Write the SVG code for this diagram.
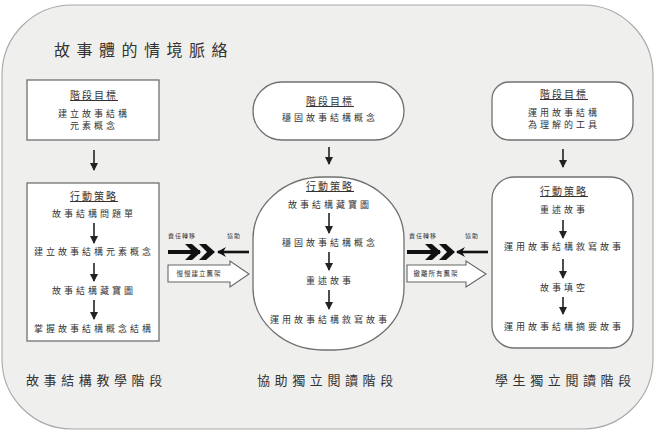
<svg xmlns="http://www.w3.org/2000/svg" width="656" height="434" viewBox="0 0 656 434">
  <defs>
    <style>
      .frame { fill: #efefed; stroke: #a8a8a8; stroke-width: 1.1; }
      .box { fill: #ffffff; stroke: #707070; stroke-width: 1.3; }
      .t { font-family: "Noto Sans CJK TC", "Noto Sans CJK SC", sans-serif; font-size: 9px; fill: #333; text-anchor: middle; letter-spacing: 3px; }
      .h { font-size: 10px; letter-spacing: 2px; text-decoration: underline; }
      .title { font-family: "Noto Sans CJK TC", sans-serif; font-size: 16px; fill: #333; letter-spacing: 6.5px; }
      .stage { font-family: "Noto Sans CJK TC", sans-serif; font-size: 13px; fill: #333; letter-spacing: 4.6px; }
      .small { font-family: "Noto Sans CJK TC", sans-serif; font-size: 6px; fill: #333; text-anchor: middle; letter-spacing: 1px; }
      .step { stroke: #222; stroke-width: 1.6; fill: none; marker-end: url(#head); }
      .help { stroke: #111; stroke-width: 2.6; fill: none; marker-end: url(#headL); }
      .shaft { stroke: #111; stroke-width: 4; fill: none; }
      .chev { fill: #111; }
      .block { fill: #fff; stroke: #666; stroke-width: 1.1; }
    </style>
    <marker id="head" markerUnits="userSpaceOnUse" markerWidth="8" markerHeight="8" refX="7" refY="4" orient="auto">
      <path d="M0,0 L8,4 L0,8 z" fill="#222"/>
    </marker>
    <marker id="headL" markerUnits="userSpaceOnUse" markerWidth="9" markerHeight="10" refX="8" refY="5" orient="auto">
      <path d="M0,0 L9,5 L0,10 L3,5 z" fill="#111"/>
    </marker>
  </defs>

  <!-- outer context frame -->
  <rect class="frame" x="2" y="5" width="651" height="424" rx="70" ry="70"/>
  <text class="title" x="54" y="56">故事體的情境脈絡</text>

  <!-- stage 1: teaching story structure -->
  <g id="goal1">
    <rect class="box" x="27" y="80" width="132" height="60"/>
    <text class="t h" x="94" y="99">階段目標</text>
    <text class="t" x="94" y="117">建立故事結構</text>
    <text class="t" x="94" y="129">元素概念</text>
  </g>
  <g id="strategy1">
    <rect class="box" x="27" y="183" width="132" height="158"/>
    <text class="t h" x="94" y="200">行動策略</text>
    <text class="t" x="94" y="217">故事結構問題單</text>
    <text class="t" x="94" y="255">建立故事結構元素概念</text>
    <text class="t" x="94" y="294">故事結構藏寶圖</text>
    <text class="t" x="94" y="332">掌握故事結構概念結構</text>
  </g>

  <!-- stage 2: assisted independent reading -->
  <g id="goal2">
    <rect class="box" x="253" y="82" width="151" height="58" rx="29" ry="29"/>
    <text class="t h" x="330" y="105">階段目標</text>
    <text class="t" x="330" y="121">穩固故事結構概念</text>
  </g>
  <g id="strategy2">
    <rect class="box" x="253" y="177" width="151" height="173" rx="70" ry="62"/>
    <text class="t h" x="330" y="190">行動策略</text>
    <text class="t" x="330" y="208">故事結構藏寶圖</text>
    <text class="t" x="330" y="246">穩固故事結構概念</text>
    <text class="t" x="330" y="284">重述故事</text>
    <text class="t" x="330" y="323">運用故事結構敘寫故事</text>
  </g>

  <!-- stage 3: student independent reading -->
  <g id="goal3">
    <rect class="box" x="492" y="82" width="141" height="58" rx="17" ry="17"/>
    <text class="t h" x="564" y="98">階段目標</text>
    <text class="t" x="564" y="116">運用故事結構</text>
    <text class="t" x="564" y="128">為理解的工具</text>
  </g>
  <g id="strategy3">
    <rect class="box" x="492" y="177" width="141" height="171" rx="22" ry="22"/>
    <text class="t h" x="564" y="195">行動策略</text>
    <text class="t" x="564" y="213">重述故事</text>
    <text class="t" x="564" y="250">運用故事結構敘寫故事</text>
    <text class="t" x="564" y="291">故事填空</text>
    <text class="t" x="564" y="330">運用故事結構摘要故事</text>
  </g>

  <!-- connectors -->
  <g id="connectors">
    <!-- goal to strategy -->
    <line class="step" x1="94" y1="150" x2="94" y2="170"/>
    <line class="step" x1="329" y1="147" x2="329" y2="164"/>
    <line class="step" x1="563" y1="149" x2="563" y2="167"/>
    <!-- steps inside strategy boxes -->
    <line class="step" x1="94" y1="223" x2="94" y2="243"/>
    <line class="step" x1="94" y1="263" x2="94" y2="281"/>
    <line class="step" x1="94" y1="300" x2="94" y2="319"/>
    <line class="step" x1="329" y1="213" x2="329" y2="233"/>
    <line class="step" x1="329" y1="252" x2="329" y2="270"/>
    <line class="step" x1="329" y1="290" x2="329" y2="309"/>
    <line class="step" x1="563" y1="220" x2="563" y2="238"/>
    <line class="step" x1="563" y1="259" x2="563" y2="278"/>
    <line class="step" x1="563" y1="297" x2="563" y2="314"/>

    <!-- between stage 1 and 2 -->
    <text class="small" x="182" y="238">責任轉移</text>
    <text class="small" x="234" y="238">協助</text>
    <line class="shaft" x1="168" y1="252" x2="200" y2="252"/>
    <polygon class="chev" points="185,244 192,244 201,252 192,260 185,260 193,252"/>
    <polygon class="chev" points="199,244 206,244 215,252 206,260 199,260 207,252"/>
    <line class="help" x1="249" y1="252" x2="218" y2="252"/>
    <polygon class="block" points="168,265 230,265 230,261 249,274 230,287 230,282 168,282"/>
    <text class="small" x="199" y="276" style="font-size:6.5px">慢慢建立鷹架</text>

    <!-- between stage 2 and 3 -->
    <text class="small" x="423" y="238">責任轉移</text>
    <text class="small" x="472" y="238">協助</text>
    <line class="shaft" x1="407" y1="252" x2="440" y2="252"/>
    <polygon class="chev" points="425,244 432,244 441,252 432,260 425,260 433,252"/>
    <polygon class="chev" points="439,244 446,244 455,252 446,260 439,260 447,252"/>
    <line class="help" x1="488" y1="252" x2="457" y2="252"/>
    <polygon class="block" points="407,265 466,265 466,261 486,274 466,287 466,282 407,282"/>
    <text class="small" x="436" y="276" style="font-size:6.5px">撤離所有鷹架</text>
  </g>

  <!-- stage names -->
  <text class="stage" x="26" y="385">故事結構教學階段</text>
  <text class="stage" x="257" y="385">協助獨立閱讀階段</text>
  <text class="stage" x="495" y="385">學生獨立閱讀階段</text>
</svg>
